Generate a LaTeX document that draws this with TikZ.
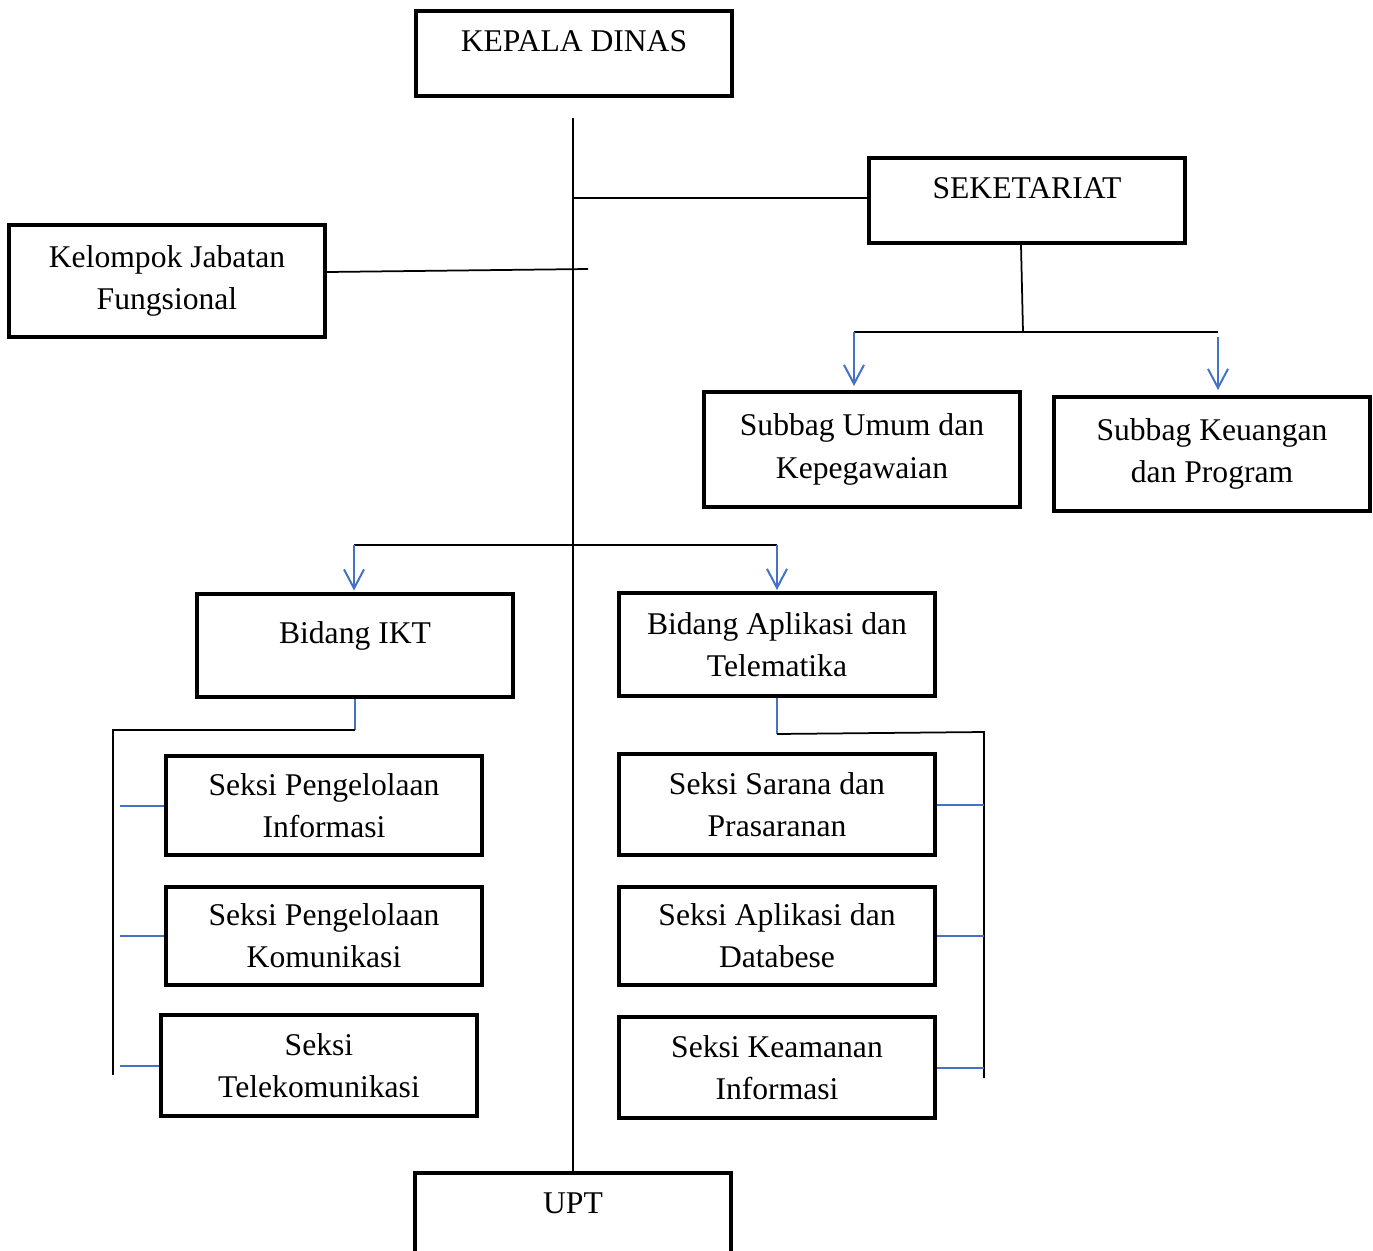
\documentclass[tikz,border=0pt]{standalone}
\usepackage{fontspec}
\setmainfont{Liberation Serif}
\usetikzlibrary{arrows.meta}
\definecolor{wordblue}{RGB}{68,114,196}
\begin{document}
\begin{tikzpicture}[x=0.02cm, y=-0.02cm,
  box/.style={draw, line width=0.08cm, minimum width=6.32cm, align=center, inner sep=0pt, font=\fontsize{18}{24}\selectfont},
  topbox/.style={text height=0.45cm, text depth=0.55cm},
  cline/.style={line width=0.035cm},
  bline/.style={wordblue, line width=0.04cm},
  arr/.style={bline, -{Straight Barb[length=0.38cm,width=0.4cm]}}]
\useasboundingbox (0,0) rectangle (1373,1251);
% boxes
\node[box, topbox, minimum height=1.7cm] (kepala) at (574,53.5) {KEPALA DINAS};
\node[box, topbox, minimum height=1.7cm] (seketariat) at (1027,200.5) {SEKETARIAT};
\node[box, minimum height=2.24cm] (kjf) at (167,281) {Kelompok Jabatan\\Fungsional};
\node[box, minimum height=2.3cm] (umum) at (862,449.5) {Subbag Umum dan\\Kepegawaian};
\node[box, minimum height=2.28cm] (keuangan) at (1212,454) {Subbag Keuangan\\dan Program};
\node[box, topbox, minimum height=2.06cm] (ikt) at (355,645.5) {Bidang IKT};
\node[box, minimum height=2.06cm] (aplikasi) at (777,644.5) {Bidang Aplikasi dan\\Telematika};
\node[box, minimum height=1.98cm] (spi) at (324,805.5) {Seksi Pengelolaan\\Informasi};
\node[box, minimum height=1.96cm] (spk) at (324,936) {Seksi Pengelolaan\\Komunikasi};
\node[box, minimum height=2.02cm] (stel) at (319,1065.5) {Seksi\\Telekomunikasi};
\node[box, minimum height=2.02cm] (sarana) at (777,804.5) {Seksi Sarana dan\\Prasaranan};
\node[box, minimum height=1.96cm] (aplikasidb) at (777,936) {Seksi Aplikasi dan\\Databese};
\node[box, minimum height=2.02cm] (keamanan) at (777,1067.5) {Seksi Keamanan\\Informasi};
\node[box, topbox, minimum height=1.7cm] (upt) at (573,1215.5) {UPT};
% spine
\coordinate (spinetop) at (573,118);
\draw[cline] (spinetop) -- (upt.north);
\coordinate (sekjoin) at (573,198);
\draw[cline] (sekjoin) -- (sekjoin -| seketariat.west);
\coordinate (kjfend) at (588,269);
\draw[cline] ([yshift=0.18cm]kjf.east) -- (kjfend);
% subbag
\coordinate (subjoin) at (1023,332);
\coordinate (subL) at (854,332);
\coordinate (subR) at (1218,332);
\draw[cline] ([xshift=-0.12cm]seketariat.south) -- (subjoin);
\draw[cline] (subL) -- (subR);
\draw[arr, shorten >=0.08cm] (subL) -- (subL |- umum.north);
\draw[arr, shorten <=0.1cm, shorten >=0.1cm] (subR) -- (subR |- keuangan.north);
% bidang
\coordinate (bidL) at (354,545);
\coordinate (bidR) at (777,545);
\draw[cline] (bidL) -- (bidR);
\draw[arr, shorten >=0.03cm] (bidL) -- (bidL |- ikt.north);
\draw[arr, shorten >=0.02cm] (bidR) -- (bidR |- aplikasi.north);
% seksi left
\coordinate (iktjoin) at (355,730);
\coordinate (lbar) at (113,730);
\coordinate (lend) at (113,1075);
\draw[bline] (ikt.south) -- (iktjoin);
\draw[cline] (iktjoin) -- (lbar) -- (lend);
\foreach \n in {spi,spk,stel}
  \draw[bline, shorten >=0.14cm] (\n.west) -- (\n.west -| lbar);
% seksi right
\coordinate (apljoin) at (777,734);
\coordinate (rbar) at (984,732);
\coordinate (rend) at (984,1078);
\draw[bline] (aplikasi.south) -- (apljoin);
\draw[cline] (apljoin) -- (rbar) -- (rend);
\foreach \n in {sarana,aplikasidb,keamanan}
  \draw[bline] (\n.east) -- (\n.east -| rbar);
\end{tikzpicture}
\end{document}
